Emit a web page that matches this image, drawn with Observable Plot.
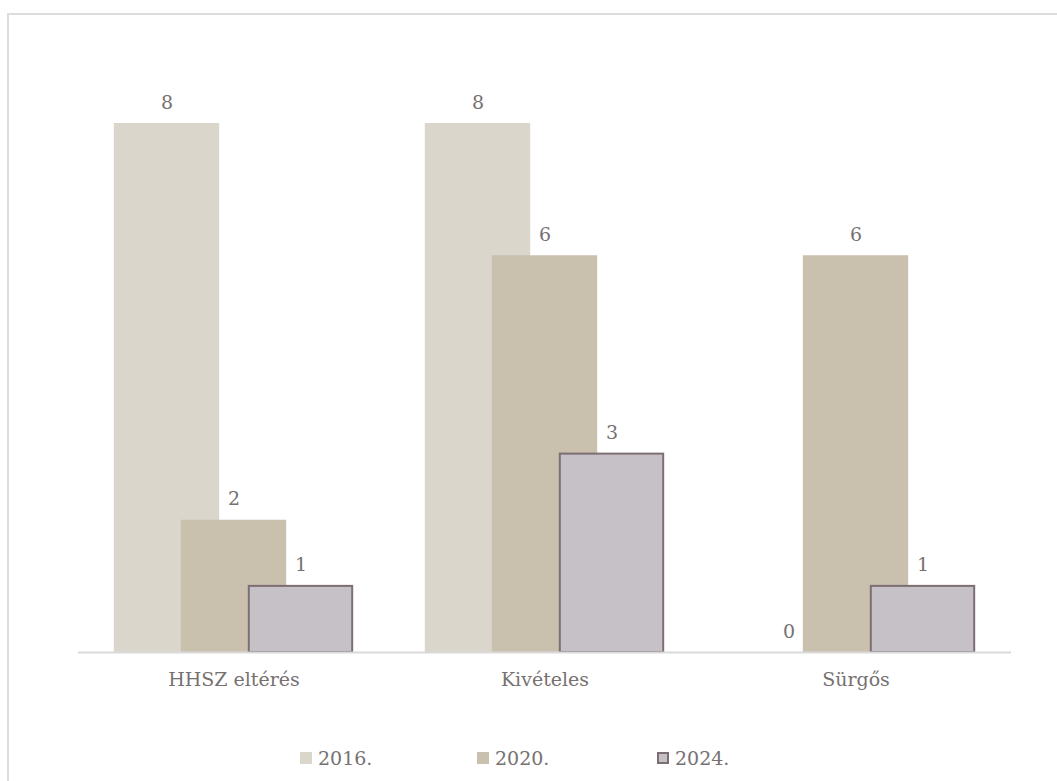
<!DOCTYPE html>
<html>
<head>
<meta charset="utf-8">
<script src="https://cdn.jsdelivr.net/npm/d3@7"></script>
<script src="https://cdn.jsdelivr.net/npm/@observablehq/plot@0.6"></script>
<style>
  html, body { margin: 0; padding: 0; background: #fff; }
  body { width: 1057px; height: 781px; overflow: hidden; position: relative; font-family: "DejaVu Serif", Georgia, serif; }
  #frame { position: absolute; left: 7px; top: 13px; width: 1100px; height: 800px; border: 2px solid #dcdcdc; box-sizing: border-box; }
  #chart { position: absolute; left: 0; top: 0; }
  #legend { position: absolute; top: 747px; left: 0; width: 1057px; height: 26px; }
  .item { position: absolute; display: flex; align-items: center; font-size: 19px; color: #767171; }
  .sw { width: 12px; height: 12px; margin-right: 6px; box-sizing: border-box; }
</style>
</head>
<body>
<div id="frame"></div>
<div id="chart"></div>
<div id="legend"></div>
<script>
const categories = ["HHSZ eltérés", "Kivételes", "Sürgős"];
const series = ["2016.", "2020.", "2024."];
const values2016 = [8, 8, 0];
const values2020 = [2, 6, 6];
const values2024 = [1, 3, 1];
const fills = ["#dad6cc", "#c9c0ae", "#c6c1c6"];
const strokes = ["none", "none", "#7d6e74"];

const valuesBySeries = [values2016, values2020, values2024];
const data = [];
series.forEach((s, si) => {
  categories.forEach((c, ci) => {
    data.push({category: c, series: s, value: valuesBySeries[si][ci]});
  });
});

const plot = Plot.plot({
  width: 1057,
  height: 700,
  marginLeft: 78,
  marginRight: 46,
  marginTop: 123,
  marginBottom: 48,
  style: {fontFamily: "'DejaVu Serif', Georgia, serif", fontSize: "19px", color: "#767171", overflow: "visible"},
  fx: {domain: categories, padding: 0, label: null, axis: "bottom", tickSize: 0, tickPadding: 20},
  x: {domain: series, paddingInner: 0, paddingOuter: 0.8, axis: null},
  y: {domain: [0, 8], axis: null},
  color: {domain: series, range: fills},
  marks: [
    Plot.barY(data.filter(d => d.series !== "2024."), {
      fx: "category", x: "series", y: "value", fill: "series",
      insetLeft: -19.2, insetRight: -19.2
    }),
    Plot.barY(data.filter(d => d.series === "2024."), {
      fx: "category", x: "series", y: "value", fill: "series",
      stroke: strokes[2], strokeWidth: 2,
      insetLeft: -18.2, insetRight: -18.2
    }),
    Plot.ruleY([0], {stroke: "#d9d9d9", strokeWidth: 2}),
    Plot.text(data, {
      fx: "category", x: "series", y: "value", text: d => String(d.value),
      dy: -21, fill: "#767171", fontSize: 19
    })
  ]
});
document.getElementById("chart").appendChild(plot);

const legendPos = [300, 477, 657];
const legend = document.getElementById("legend");
series.forEach((s, i) => {
  const item = document.createElement("div");
  item.className = "item";
  item.style.left = legendPos[i] + "px";
  const sw = document.createElement("div");
  sw.className = "sw";
  sw.style.background = fills[i];
  if (strokes[i] !== "none") sw.style.border = "2px solid " + strokes[i];
  const t = document.createElement("span");
  t.textContent = s;
  item.appendChild(sw);
  item.appendChild(t);
  legend.appendChild(item);
});
</script>
</body>
</html>
